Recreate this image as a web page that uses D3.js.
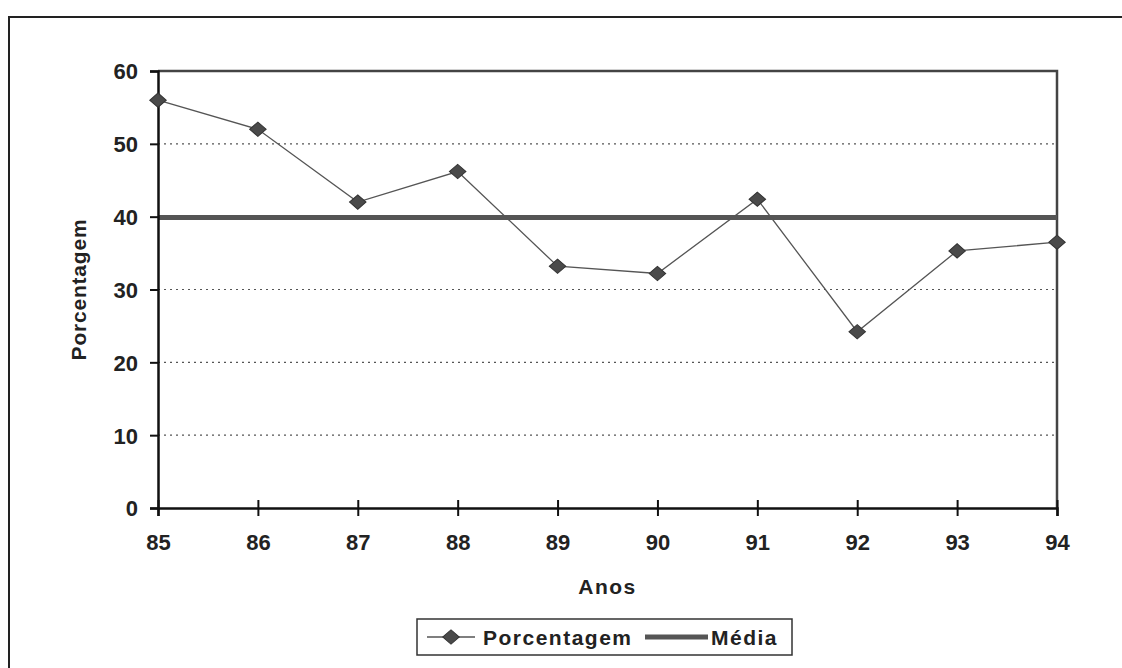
<!DOCTYPE html>
<html>
<head>
<meta charset="utf-8">
<script src="https://cdnjs.cloudflare.com/ajax/libs/d3/7.8.5/d3.min.js"></script>
<style>
  body { margin: 0; background: #fff; }
  svg text { font-family: "Liberation Sans", Arial, sans-serif; font-weight: bold; fill: #222; }
</style>
</head>
<body>
<div id="chart"></div>
<script>
var years = ["85", "86", "87", "88", "89", "90", "91", "92", "93", "94"];
var porcentagem = [56, 52, 42, 46.2, 33.2, 32.2, 42.4, 24.2, 35.3, 36.5];
var media = 39.9;
var yTicks = [0, 10, 20, 30, 40, 50, 60];

var width = 1122, height = 668;
var margins = {top: 71, right: 65, bottom: 160, left: 158};
var plotW = width - margins.left - margins.right,
    plotH = height - margins.top - margins.bottom;

var svg = d3.select("#chart").append("svg")
    .attr("width", width)
    .attr("height", height);

// outer frame (runs off the page right and bottom)
svg.append("rect")
    .attr("x", 9).attr("y", 17)
    .attr("width", width + 20).attr("height", height + 20)
    .attr("fill", "none").attr("stroke", "#222").attr("stroke-width", 2);

var x = d3.scalePoint().domain(years).range([0, plotW]);
var y = d3.scaleLinear().domain([0, 60]).range([plotH, 0]);

var g = svg.append("g").attr("transform", "translate(" + margins.left + "," + margins.top + ")");

// grid lines
g.selectAll("line.grid").data(yTicks.filter(function(d) { return d > 0 && d < 60; }))
  .enter().append("line")
    .attr("class", "grid")
    .attr("x1", 0).attr("x2", plotW)
    .attr("y1", function(d) { return y(d); })
    .attr("y2", function(d) { return y(d); })
    .attr("stroke", "#555").attr("stroke-width", 1.2)
    .attr("stroke-dasharray", "2,4");

// plot frame top/right
g.append("path")
    .attr("d", "M0," + y(60) + "H" + plotW + "V" + y(0))
    .attr("fill", "none").attr("stroke", "#444").attr("stroke-width", 2.5);

// média line
g.append("line")
    .attr("x1", 0).attr("x2", plotW)
    .attr("y1", y(media)).attr("y2", y(media))
    .attr("stroke", "#555").attr("stroke-width", 5);

// y axis
var yAxis = d3.axisLeft(y).tickValues(yTicks).tickSize(8).tickPadding(12);
var ya = g.append("g").call(yAxis);
ya.select(".domain").attr("stroke", "#111").attr("stroke-width", 2.5);
ya.selectAll(".tick line").attr("stroke", "#111").attr("stroke-width", 2);
ya.selectAll(".tick text").style("font-size", "22px").attr("dy", "0.36em");

// x axis
var xAxis = d3.axisBottom(x).tickSize(8).tickPadding(14);
var xa = g.append("g").attr("transform", "translate(0," + plotH + ")").call(xAxis);
xa.select(".domain").attr("stroke", "#111").attr("stroke-width", 2.5);
xa.selectAll(".tick line").attr("y1", -8).attr("stroke", "#111").attr("stroke-width", 2);
xa.selectAll(".tick text").style("font-size", "22px").attr("dy", "0.9em");

// series
var line = d3.line()
    .x(function(d, i) { return x(years[i]); })
    .y(function(d) { return y(d); });

g.append("path")
    .datum(porcentagem)
    .attr("d", line)
    .attr("fill", "none").attr("stroke", "#555").attr("stroke-width", 1.3);

// diamond marker: rotated square, slightly wider than tall
var marker = d3.symbol().type(d3.symbolSquare).size(112);
g.selectAll("path.pt").data(porcentagem)
  .enter().append("path")
    .attr("class", "pt")
    .attr("d", marker)
    .attr("transform", function(d, i) { return "translate(" + x(years[i]) + "," + y(d) + ") scale(1.1,0.95) rotate(45)"; })
    .attr("fill", "#4a4a4a").attr("stroke", "#333").attr("stroke-width", 1);

// axis titles
svg.append("text")
    .attr("transform", "translate(86," + (margins.top + y(30)) + ") rotate(-90)")
    .attr("text-anchor", "middle")
    .style("font-size", "21px")
    .style("letter-spacing", "0.8px")
    .text("Porcentagem");

svg.append("text")
    .attr("x", margins.left + plotW / 2).attr("y", 594)
    .attr("text-anchor", "middle")
    .style("font-size", "21px")
    .style("letter-spacing", "1.5px")
    .text("Anos");

// legend
var lg = svg.append("g").attr("transform", "translate(417,619)");
lg.append("rect")
    .attr("width", 375).attr("height", 36)
    .attr("fill", "#fff").attr("stroke", "#333").attr("stroke-width", 1.5);
lg.append("line")
    .attr("x1", 10).attr("x2", 58).attr("y1", 18).attr("y2", 18)
    .attr("stroke", "#555").attr("stroke-width", 1.3);
lg.append("path")
    .attr("d", marker)
    .attr("transform", "translate(34,18) scale(1.1,0.95) rotate(45)")
    .attr("fill", "#4a4a4a").attr("stroke", "#333");
lg.append("text")
    .attr("x", 66).attr("y", 18).attr("dy", "0.36em")
    .style("font-size", "21px")
    .style("letter-spacing", "1.5px")
    .text("Porcentagem");
lg.append("line")
    .attr("x1", 228).attr("x2", 291).attr("y1", 18).attr("y2", 18)
    .attr("stroke", "#555").attr("stroke-width", 5);
lg.append("text")
    .attr("x", 294).attr("y", 18).attr("dy", "0.36em")
    .style("font-size", "21px")
    .style("letter-spacing", "1.5px")
    .text("Média");
</script>
</body>
</html>
